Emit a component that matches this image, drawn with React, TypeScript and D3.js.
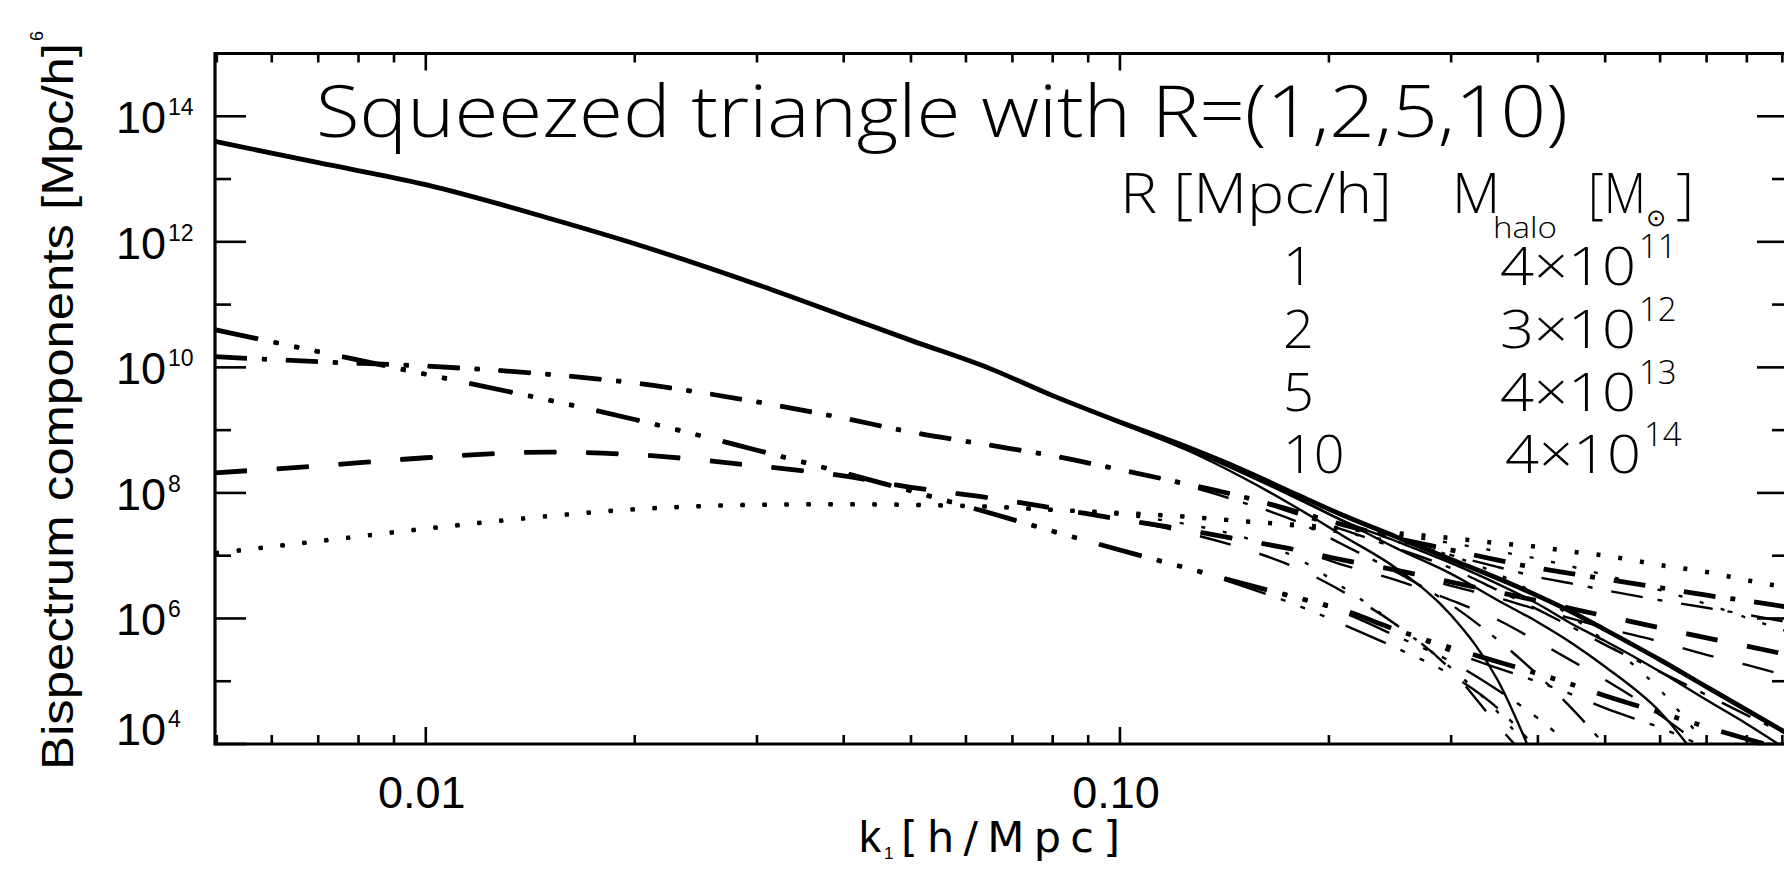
import React from 'react';
import * as d3 from 'd3';

// ---------- data ----------
// k1 sampling grid [h/Mpc]
const kGrid = [0.00497, 0.007, 0.01, 0.015, 0.02, 0.03, 0.04, 0.05, 0.065, 0.08, 0.1, 0.125, 0.15, 0.18, 0.21, 0.25, 0.3, 0.35, 0.4, 0.45, 0.5, 0.6, 0.7, 0.8, 0.917];

// log10 of the bispectrum components, R = 1 Mpc/h (shared low-k branch of every R)
const solidR1 = [13.60, 13.26, 12.91, 12.38, 11.97, 11.32, 10.82, 10.43, 9.98, 9.55, 9.13, 8.73, 8.37, 7.97, 7.64, 7.30, 6.94, 6.64, 6.36, 6.09, 5.82, 5.34, 4.91, 4.54, 4.16];
const dottedR1 = [7.04, 7.23, 7.43, 7.63, 7.74, 7.81, 7.82, 7.81, 7.78, 7.73, 7.68, 7.62, 7.55, 7.49, 7.43, 7.36, 7.28, 7.20, 7.14, 7.06, 7.00, 6.85, 6.74, 6.61, 6.49];
const dashDotR1 = [10.17, 10.09, 10.02, 9.89, 9.75, 9.45, 9.19, 8.97, 8.76, 8.59, 8.37, 8.14, 7.94, 7.70, 7.49, 7.28, 7.09, 6.93, 6.80, 6.71, 6.63, 6.49, 6.37, 6.28, 6.18];
const dash3DotR1 = [10.60, 10.25, 9.89, 9.48, 9.17, 8.68, 8.32, 8.03, 7.68, 7.39, 7.09, 6.80, 6.56, 6.33, 6.13, 5.82, 5.53, 5.31, 5.12, 4.94, 4.77, 4.50, 4.27, 4.08, 3.90];
const dashedR1 = [8.32, 8.43, 8.56, 8.65, 8.61, 8.43, 8.27, 8.09, 7.92, 7.76, 7.58, 7.41, 7.25, 7.09, 6.93, 6.77, 6.58, 6.42, 6.28, 6.15, 6.04, 5.85, 5.69, 5.56, 5.42];

// high-k tails for larger smoothing radii (start = index into kGrid)
const solidR2 = { start: 11, values: [8.72, 8.33, 7.92, 7.55, 7.23, 6.88, 6.55, 6.23, 5.90, 5.64, 5.15, 4.70, 4.32, 3.90] };
const solidR5 = { start: 11, values: [8.70, 8.32, 7.91, 7.55, 7.12, 6.71, 6.29, 5.94, 5.59, 5.23, 4.51, 3.59] };
const solidR10 = { start: 10, values: [9.11, 8.68, 8.25, 7.76, 7.31, 6.80, 6.05, 5.02, 3.59] };

const dottedR2 = { start: 15, values: [7.33, 7.20, 7.07, 6.95, 6.82, 6.69, 6.45, 6.23, 6.01, 5.79] };
const dottedR5 = { start: 13, values: [7.46, 7.36, 7.22, 7.00, 6.71, 6.37, 6.01, 5.63, 4.86, 3.98] };
const dottedR10 = { start: 10, values: [7.65, 7.50, 7.30, 6.96, 6.49, 5.90, 5.21, 4.51, 3.74] };

const dashDotR2 = { start: 15, values: [7.25, 7.01, 6.82, 6.66, 6.55, 6.45, 6.29, 6.17, 6.06, 5.94] };
const dashDotR5 = { start: 13, values: [7.66, 7.41, 7.12, 6.80, 6.45, 6.14, 5.85, 5.58, 5.15, 4.78, 4.46, 4.14] };
const dashDotR10 = { start: 11, values: [8.11, 7.85, 7.54, 7.17, 6.74, 6.22, 5.66, 5.10, 4.54, 3.98] };

const dash3DotR2 = { start: 16, values: [5.47, 5.21, 4.99, 4.78, 4.57, 4.26, 3.94] };
const dash3DotR5 = { start: 14, values: [6.09, 5.72, 5.31, 4.86, 4.41, 3.94] };
const dash3DotR10 = { start: 12, values: [6.52, 6.21, 5.90, 5.53, 5.10, 4.57, 3.90] };

const dashedR2 = { start: 16, values: [6.52, 6.33, 6.14, 5.99, 5.85, 5.63, 5.42, 5.26, 5.08] };
const dashedR5 = { start: 14, values: [6.85, 6.61, 6.29, 5.98, 5.63, 5.31, 5.02, 4.46, 3.90] };
const dashedR10 = { start: 11, values: [7.36, 7.12, 6.80, 6.42, 5.90, 5.18, 4.30, 3.59] };

// legend table
const radii = ['1', '2', '5', '10'];
const massMantissa = ['4', '3', '4', '4'];
const massExponent = ['11', '12', '13', '14'];

// axes
const xDomain = [0.00497, 0.917];
const yDomain = [1e4, 1e15];
const xTickValues = [0.01, 0.1];
const xTickLabels = ['0.01', '0.10'];
const yLabelExponents = [4, 6, 8, 10, 12, 14];

const titleText = 'Squeezed triangle with R=(1,2,5,10)';

// ---------- layout ----------
const W = 1784, H = 878;
const L = 215, R = 1788, T = 53.5, B = 744;

const dashes: Record<string, string | undefined> = {
  solid: undefined,
  dotted: '4 18',
  dashed: '32 30',
  dashdot: '32 15 5 19',
  dash3dot: '44 16 5 16 5 16 5 23',
};

function build(base: number[], tail?: { start: number; values: number[] }) {
  const vals = tail ? base.slice(0, tail.start).concat(tail.values) : base;
  return vals.map((v, i) => [kGrid[i], Math.pow(10, v)] as [number, number]);
}

export default function App() {
  const x = d3.scaleLog().domain(xDomain).range([L, R]);
  const y = d3.scaleLog().domain(yDomain).range([B, T]);

  const line = d3.line<[number, number]>()
    .x(d => x(d[0]))
    .y(d => y(d[1]))
    .curve(d3.curveMonotoneX);

  const families: { style: string; base: number[]; tails: { start: number; values: number[] }[] }[] = [
    { style: 'dotted', base: dottedR1, tails: [dottedR2, dottedR5, dottedR10] },
    { style: 'dashed', base: dashedR1, tails: [dashedR2, dashedR5, dashedR10] },
    { style: 'dashdot', base: dashDotR1, tails: [dashDotR2, dashDotR5, dashDotR10] },
    { style: 'dash3dot', base: dash3DotR1, tails: [dash3DotR2, dash3DotR5, dash3DotR10] },
    { style: 'solid', base: solidR1, tails: [solidR2, solidR5, solidR10] },
  ];

  const paths: JSX.Element[] = [];
  families.forEach(f => {
    f.tails.forEach((t, j) => {
      paths.push(
        <path key={f.style + j} d={line(build(f.base, t)) || ''} fill="none" stroke="#000"
          strokeWidth={2.4} strokeDasharray={dashes[f.style]} />
      );
    });
  });
  families.forEach(f => {
    paths.push(
      <path key={f.style + 'R1'} d={line(build(f.base)) || ''} fill="none" stroke="#000"
        strokeWidth={f.style === 'dotted' ? 4.5 : 4.8} strokeDasharray={dashes[f.style]} />
    );
  });

  const xAll = x.ticks();
  const isMajorX = (v: number) => Math.abs(Math.log10(v) - Math.round(Math.log10(v))) < 1e-6;
  const yDecades = d3.range(4, 16).map(e => Math.pow(10, e));

  const axisFont = "'Liberation Sans', Arial, Helvetica, sans-serif";
  const wideFont = "'DejaVu Sans', 'Liberation Sans', sans-serif";
  const lightFont = "'Open Sans', 'DejaVu Sans', sans-serif";

  return (
    <svg width={W} height={H} style={{ position: 'absolute', left: 0, top: 0, background: '#fff' }}
      xmlns="http://www.w3.org/2000/svg">
      <rect x={0} y={0} width={W} height={H} fill="#fff" />
      <defs>
        <clipPath id="plotClip">
          <rect x={L} y={T} width={R - L} height={B - T} />
        </clipPath>
      </defs>

      <g clipPath="url(#plotClip)">{paths}</g>

      {/* frame */}
      <g stroke="#000" strokeWidth={3.2} fill="none">
        <line x1={L} y1={T} x2={R} y2={T} />
        <line x1={L} y1={B} x2={R} y2={B} />
        <line x1={L} y1={T - 1.6} x2={L} y2={B + 1.6} />
        <line x1={R} y1={T - 1.6} x2={R} y2={B + 1.6} />
      </g>

      {/* x ticks (bottom and top) */}
      <g stroke="#000" strokeWidth={2.6}>
        {xAll.map((v, i) => {
          const len = isMajorX(v) ? 17 : 9;
          const px = x(v);
          return (
            <g key={'xt' + i}>
              <line x1={px} y1={B} x2={px} y2={B - len} />
              <line x1={px} y1={T} x2={px} y2={T + len} />
            </g>
          );
        })}
      </g>

      {/* y ticks (left and right) */}
      <g stroke="#000" strokeWidth={2.6}>
        {yDecades.map((v, i) => {
          const e = Math.round(Math.log10(v));
          const len = e % 2 === 0 ? 31 : 16;
          const py = y(v);
          return (
            <g key={'yt' + i}>
              <line x1={L} y1={py} x2={L + len} y2={py} />
              <line x1={R} y1={py} x2={R - len} y2={py} />
            </g>
          );
        })}
      </g>

      {/* x tick labels */}
      {xTickValues.map((v, i) => (
        <text key={'xl' + i} x={x(v) - 4} y={808} textAnchor="middle" fontFamily={axisFont} fontSize={45}
          fill="#000">{xTickLabels[i]}</text>
      ))}

      {/* y tick labels */}
      {yLabelExponents.map((e, i) => {
        const py = y(Math.pow(10, e));
        const base = e === 4 ? py + 1 : py + 17;
        return (
          <g key={'yl' + i}>
            <text x={166} y={base} textAnchor="end" fontFamily={axisFont} fontSize={45} fill="#000">10</text>
            <text x={168} y={base - 18} textAnchor="start" fontFamily={axisFont} fontSize={23} fill="#000">{e}</text>
          </g>
        );
      })}

      {/* axis titles */}
      <text x={859} y={852} fontFamily={axisFont} fontSize={44} fill="#000">k</text>
      <text x={884} y={859} fontFamily={axisFont} fontSize={17} fill="#000">1</text>
      <text x={901} y={852} fontFamily={wideFont} fontSize={43} fill="#000" textLength={219}
        lengthAdjust="spacing">[h/Mpc]</text>
      <text transform="translate(73,770) rotate(-90)" fontFamily={axisFont} fontSize={44} fill="#000"
        textLength={727} lengthAdjust="spacingAndGlyphs">Bispectrum  components  [Mpc/h]</text>
      <text transform="translate(43,41) rotate(-90)" fontFamily={axisFont} fontSize={18} fill="#000">6</text>

      {/* title */}
      <text x={316} y={137} fontFamily={lightFont} fontWeight={300} fontSize={72} fill="#000"
        textLength={1252} lengthAdjust="spacingAndGlyphs">{titleText}</text>

      {/* legend table */}
      <g fontFamily={lightFont} fontWeight={300} fill="#000">
        <text x={1120} y={213} fontSize={56} textLength={272} lengthAdjust="spacingAndGlyphs">R [Mpc/h]</text>
        <text x={1452} y={213} fontSize={56}>M</text>
        <text x={1493} y={238} fontSize={30} textLength={64} lengthAdjust="spacingAndGlyphs">halo</text>
        <text x={1588} y={213} fontSize={56} textLength={58} lengthAdjust="spacingAndGlyphs">[M</text>
        <text x={1646} y={226} fontSize={24}>⊙</text>
        <text x={1676} y={213} fontSize={56}>]</text>
        {radii.map((r, i) => {
          const base = 285 + i * 62.8;
          return (
            <g key={'lg' + i}>
              <text x={1283} y={base} fontSize={54}>{r}</text>
              <text x={1500 + (i === 3 ? 5 : 0)} y={base} fontSize={54} textLength={136} lengthAdjust="spacingAndGlyphs">
                {massMantissa[i] + '×10'}
              </text>
              <text x={1639 + (i === 3 ? 5 : 0)} y={base - 27} fontSize={33}>{massExponent[i]}</text>
            </g>
          );
        })}
      </g>
    </svg>
  );
}
